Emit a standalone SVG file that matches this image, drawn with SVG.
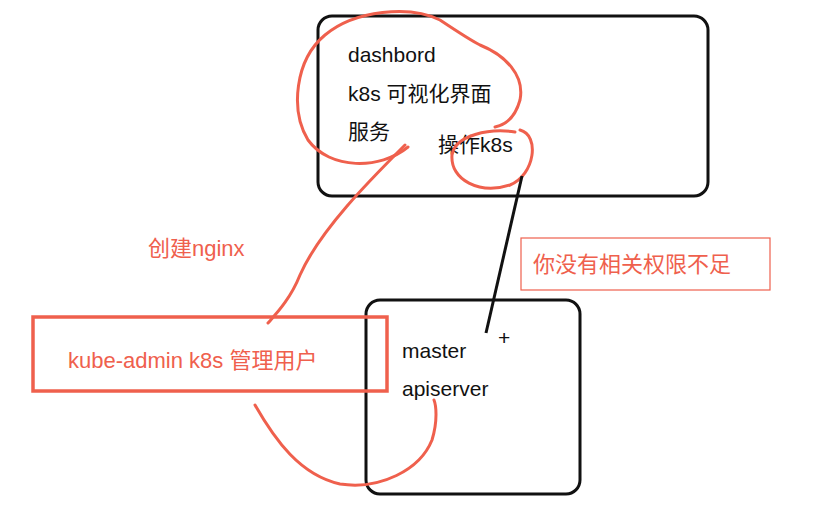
<svg xmlns="http://www.w3.org/2000/svg" width="839" height="524" viewBox="0 0 839 524">
<style>
.box{fill:none;stroke:#111;stroke-width:3}
.red{fill:none;stroke:#ef604d;stroke-width:3;stroke-linecap:round;stroke-linejoin:round}
.t{font-family:"Liberation Sans","Noto Sans CJK SC",sans-serif;font-size:21px;fill:#111}
.r{font-family:"Liberation Sans","Noto Sans CJK SC",sans-serif;font-size:22px;fill:#ef604d}
</style>
<rect width="839" height="524" fill="#fff"/>
<g id="dashboard">
<rect class="box" x="318" y="16" width="390" height="180" rx="14"/>
<text class="t" x="348" y="62">dashbord</text>
<text class="t" x="348" y="101">k8s 可视化界面</text>
<text class="t" x="348" y="139">服务</text>
<text class="t" x="438" y="152">操作k8s</text>
</g>
<g id="master">
<rect class="box" x="366" y="300" width="214" height="194" rx="14"/>
<text class="t" x="402" y="358">master</text>
<text class="t" x="402" y="396">apiserver</text>
<text class="t" x="498" y="345" font-size="26">+</text>
</g>
<g id="warning">
<rect x="521" y="238" width="249" height="52" fill="none" stroke="#ef604d" stroke-width="1.2"/>
<text class="r" x="533" y="272">你没有相关权限不足</text>
</g>
<g id="admin">
<rect x="33" y="317" width="354" height="74" fill="none" stroke="#ef604d" stroke-width="3.5"/>
<text class="r" x="68" y="368">kube-admin k8s 管理用户</text>
</g>
<text class="r" x="148" y="256" font-size="20">创建nginx</text>
<g id="connectors">
<path class="red" d="M408,147 C380,170 330,170 308,140 C290,110 295,60 325,35 C355,10 410,5 440,20 C455,30 470,40 480,45 C505,55 525,75 520,100 C515,118 505,125 495,127"/>
<path class="red" d="M405,145 C370,180 320,230 300,275 C290,300 275,315 268,323"/>
<path class="red" d="M520,130 C540,135 535,175 510,185 C480,195 450,180 452,155 C455,135 490,128 515,132"/>
<path class="box" d="M522,176 L486,333"/>
<path class="red" d="M255,405 C275,440 300,475 340,484 C380,490 420,470 432,440 C438,420 436,405 434,400"/>
</g>
</svg>
